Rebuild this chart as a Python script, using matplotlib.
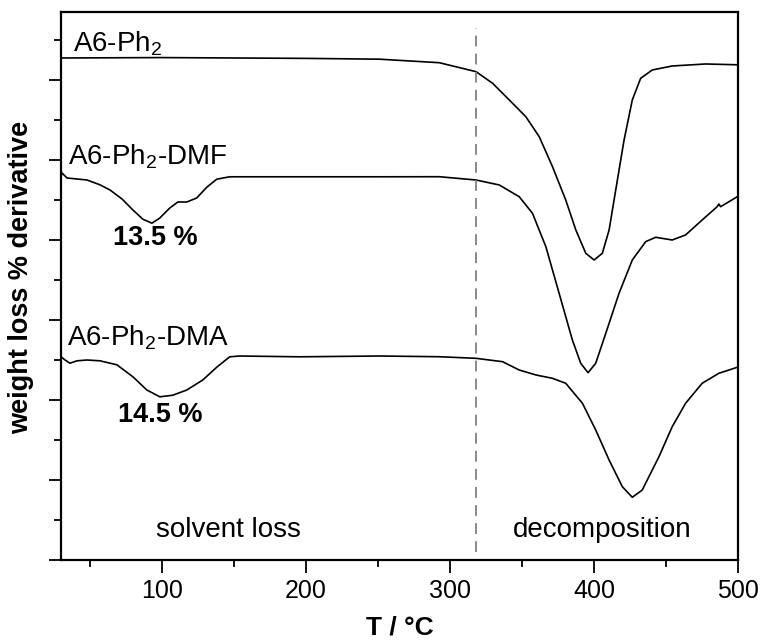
import matplotlib
matplotlib.use("Agg")
import matplotlib.pyplot as plt
from matplotlib.ticker import MultipleLocator

plt.rcParams['font.family'] = ['Liberation Sans', 'DejaVu Sans']
plt.rcParams['mathtext.fontset'] = 'custom'
plt.rcParams['mathtext.rm'] = 'Liberation Sans'

# A6-Ph2 (top curve), T / degC and DTG signal (arbitrary units)
t_ph2 = [30, 100, 200, 251, 292.6, 318.1, 329.6, 341.2, 352.7, 362.0, 371.2,
         380.4, 387.4, 394.3, 400.1, 405.8, 410.5, 415.1, 420.9, 426.6, 432.4,
         440.5, 454.3, 477.5, 499.5]
y_ph2 = [6.275, 6.28, 6.27, 6.26, 6.216, 6.104, 5.959, 5.75, 5.541, 5.291, 4.916,
         4.5, 4.125, 3.834, 3.75, 3.834, 4.125, 4.625, 5.25, 5.75, 6.021,
         6.125, 6.175, 6.2, 6.19]

# A6-Ph2-DMF (middle curve)
t_dmf = [30, 30.5, 34.2, 48.0, 57.0, 64.0, 72.5, 79.9, 86.8, 93.1, 98.6, 105.5,
         111.1, 117.3, 124.2, 131.2, 138.1, 147.1, 200, 251, 292.6, 318.1, 334.2,
         348.1, 357.3, 366.6, 375.8, 385.0, 390.8, 395.9, 401.2, 408.2, 417.4,
         426.6, 435.9, 442.8, 454.3, 463.6, 475.1, 485.5, 486.7, 487.9, 499.5]
y_dmf = [4.79, 4.84, 4.775, 4.75, 4.69, 4.625, 4.51, 4.375, 4.26, 4.21, 4.275,
         4.4, 4.475, 4.475, 4.525, 4.66, 4.76, 4.79, 4.79, 4.79, 4.791, 4.75,
         4.688, 4.541, 4.334, 3.916, 3.334, 2.75, 2.459, 2.341, 2.459, 2.834,
         3.334, 3.75, 3.979, 4.034, 4.0, 4.063, 4.25, 4.416, 4.45, 4.416, 4.541]

# A6-Ph2-DMA (bottom curve)
t_dma = [30, 32.8, 36.2, 41.1, 48, 57, 68.8, 79.9, 89.6, 98.6, 107.6, 117.3,
         128.4, 138.1, 147.1, 154, 195.6, 251, 292.6, 318.1, 336.5, 348.1,
         359.7, 371.2, 380.4, 392.0, 401.2, 410.5, 419.7, 426.6, 433.5, 445.1,
         454.3, 463.6, 475.1, 486.7, 499.5]
y_dma = [2.54, 2.5, 2.46, 2.49, 2.5, 2.49, 2.44, 2.29, 2.125, 2.04, 2.06, 2.125,
         2.25, 2.41, 2.54, 2.55, 2.54, 2.55, 2.541, 2.521, 2.479, 2.375,
         2.313, 2.271, 2.209, 1.959, 1.625, 1.25, 0.916, 0.784, 0.875, 1.291,
         1.666, 1.959, 2.209, 2.334, 2.409]

sample_names = ['A6-Ph$_2$', 'A6-Ph$_2$-DMF', 'A6-Ph$_2$-DMA']
name_pos = [(38, 6.46), (35, 5.04), (34, 2.775)]
loss_labels = ['13.5 %', '14.5 %']
loss_pos = [(66, 4.02), (69.5, 1.81)]
t_split = 318

fig = plt.figure(figsize=(7.61, 6.44), dpi=100)
ax = fig.add_axes([0.0802, 0.1304, 0.8896, 0.851])

for t, y in [(t_ph2, y_ph2), (t_dmf, y_dmf), (t_dma, y_dma)]:
    ax.plot(t, y, color='black', lw=1.2)

ax.plot([t_split, t_split], [0.1, 6.65], color='#808080', lw=1.3,
        dashes=(6, 4))

for name, (x, y) in zip(sample_names, name_pos):
    ax.text(x, y, name, fontsize=20, va='center', ha='left')
for lab, (x, y) in zip(loss_labels, loss_pos):
    ax.text(x, y, lab, fontsize=19.5, fontweight='bold', va='center', ha='left')

ax.text(146, 0.37, 'solvent loss', fontsize=20, ha='center', va='center')
ax.text(406, 0.37, 'decomposition', fontsize=20, ha='center', va='center')

ax.set_xlim(30, 500)
ax.set_ylim(0, 6.85)
ax.xaxis.set_major_locator(MultipleLocator(100))
ax.xaxis.set_minor_locator(MultipleLocator(50))
ax.yaxis.set_major_locator(MultipleLocator(1))
ax.yaxis.set_minor_locator(MultipleLocator(0.5))
ax.tick_params(which='both', direction='out', width=1.3, top=False, right=False)
ax.tick_params(which='major', length=9, labelsize=18, pad=5)
ax.tick_params(which='minor', length=5)
ax.tick_params(axis='y', which='both', labelleft=False)
for s in ax.spines.values():
    s.set_linewidth(1.6)

ax.set_xlabel('T / °C', fontsize=19, fontweight='bold', labelpad=9)
ax.set_ylabel('weight loss % derivative', fontsize=19.5, fontweight='bold')
ax.yaxis.set_label_coords(-0.04, 0.515)

fig.savefig('out.png', dpi=100)
